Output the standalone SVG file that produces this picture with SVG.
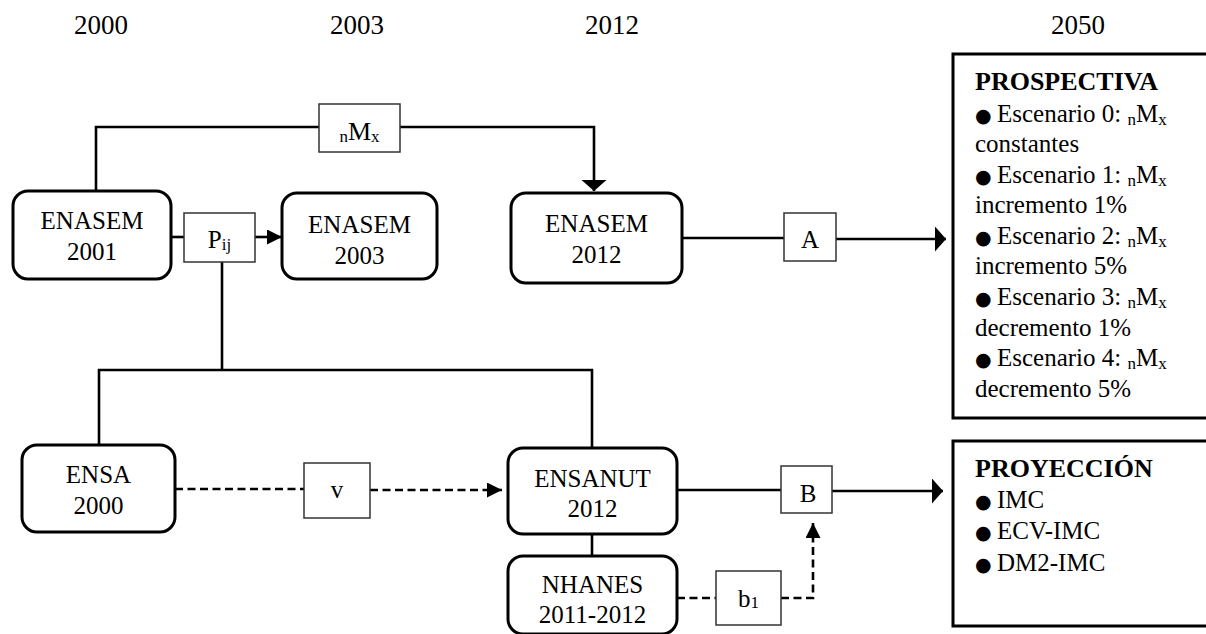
<svg xmlns="http://www.w3.org/2000/svg" width="1206" height="634" viewBox="0 0 1206 634">
<style>
text{font-family:"Liberation Serif","Times New Roman",serif;font-size:25px;fill:#000}
.c{text-anchor:middle}
.yr{font-size:27px;text-anchor:middle}
.b{font-weight:bold;font-size:26px}
.sub{font-size:17px}
.bul{font-size:19px;font-family:"DejaVu Sans",sans-serif}
.node{fill:#fff;stroke:#000;stroke-width:3}
.lbl{fill:#fff;stroke:#333;stroke-width:1.5}
.ln{fill:none;stroke:#000;stroke-width:2.6}
.dash{fill:none;stroke:#000;stroke-width:2.6;stroke-dasharray:8 4.5}
</style>
<defs>
<marker id="ab" markerUnits="userSpaceOnUse" markerWidth="12" markerHeight="26" refX="11" refY="12.5" orient="auto"><path d="M0,0 L11,12.5 L0,25 Z" fill="#000"/></marker>
<marker id="as" markerUnits="userSpaceOnUse" markerWidth="16" markerHeight="16" refX="15" refY="7.5" orient="auto"><path d="M0,0 L15,7.5 L0,15 Z" fill="#000"/></marker>
</defs>

<g id="years">
<text class="yr" x="101" y="34">2000</text>
<text class="yr" x="357" y="34">2003</text>
<text class="yr" x="612" y="34">2012</text>
<text class="yr" x="1078" y="34">2050</text>
</g>

<g id="connectors">
<path class="ln" d="M96,191 V127 H319"/>
<path class="ln" d="M400,127 H594 V191" marker-end="url(#ab)"/>
<path class="ln" d="M171,237 H184"/>
<path class="ln" d="M255,237 H282" marker-end="url(#as)"/>
<path class="ln" d="M222,262 V370"/>
<path class="ln" d="M99,445 V370 H592 V448"/>
<path class="ln" d="M682,238 H784"/>
<path class="ln" d="M836,239 H946" marker-end="url(#ab)"/>
<path class="dash" d="M175,489 H304"/>
<path class="dash" d="M370,490 H502" marker-end="url(#as)"/>
<path class="ln" d="M677,490 H781"/>
<path class="ln" d="M832,491 H943" marker-end="url(#ab)"/>
<path class="ln" d="M592,534 V556"/>
<path class="dash" d="M677,598 H716"/>
<path class="dash" d="M781,598 H813 V523" marker-end="url(#as)"/>
</g>

<g id="enasem2001">
<rect class="node" x="13" y="191" width="158" height="88" rx="15"/>
<text class="c" x="92" y="229">ENASEM</text>
<text class="c" x="92" y="260">2001</text>
</g>
<g id="enasem2003">
<rect class="node" x="282" y="193" width="155" height="86" rx="15"/>
<text class="c" x="359.5" y="233">ENASEM</text>
<text class="c" x="359.5" y="264">2003</text>
</g>
<g id="enasem2012">
<rect class="node" x="511" y="193" width="171" height="90" rx="15"/>
<text class="c" x="596.5" y="232">ENASEM</text>
<text class="c" x="596.5" y="263">2012</text>
</g>
<g id="ensa2000">
<rect class="node" x="22" y="445" width="153" height="87" rx="15"/>
<text class="c" x="98.5" y="483">ENSA</text>
<text class="c" x="98.5" y="514">2000</text>
</g>
<g id="ensanut2012">
<rect class="node" x="508" y="448" width="169" height="86" rx="15"/>
<text class="c" x="592.5" y="487">ENSANUT</text>
<text class="c" x="592.5" y="517">2012</text>
</g>
<g id="nhanes">
<rect class="node" x="508" y="556" width="169" height="78" rx="15"/>
<text class="c" x="592.5" y="593">NHANES</text>
<text class="c" x="592.5" y="623">2011-2012</text>
</g>

<g id="lbl-nMx">
<rect class="lbl" x="319" y="104" width="81" height="48"/>
<text class="c" x="359.5" y="140"><tspan class="sub" dy="2">n</tspan><tspan dy="-2" font-size="26">M</tspan><tspan class="sub" dy="2">x</tspan></text>
</g>
<g id="lbl-Pij">
<rect class="lbl" x="184" y="213" width="71" height="49"/>
<text class="c" x="219.5" y="248">P<tspan class="sub" dy="2">ij</tspan></text>
</g>
<g id="lbl-A">
<rect class="lbl" x="784" y="213" width="52" height="48"/>
<text class="c" x="810" y="248">A</text>
</g>
<g id="lbl-v">
<rect class="lbl" x="304" y="463" width="66" height="55"/>
<text class="c" x="337" y="498">v</text>
</g>
<g id="lbl-B">
<rect class="lbl" x="781" y="466" width="51" height="47"/>
<text class="c" x="808" y="502">B</text>
</g>
<g id="lbl-b1">
<rect class="lbl" x="716" y="571" width="65" height="54"/>
<text class="c" x="748.5" y="607">b<tspan class="sub" dy="1">1</tspan></text>
</g>

<g id="prospectiva">
<rect class="node" x="953" y="54" width="260" height="364"/>
<text class="b" x="975" y="90">PROSPECTIVA</text>
<text x="975" y="122"><tspan class="bul">●</tspan><tspan x="997">Escenario 0: </tspan><tspan class="sub" dy="3">n</tspan><tspan dy="-3">M</tspan><tspan class="sub" dy="3">x</tspan></text>
<text x="975" y="152">constantes</text>
<text x="975" y="183"><tspan class="bul">●</tspan><tspan x="997">Escenario 1: </tspan><tspan class="sub" dy="3">n</tspan><tspan dy="-3">M</tspan><tspan class="sub" dy="3">x</tspan></text>
<text x="975" y="213">incremento 1%</text>
<text x="975" y="244"><tspan class="bul">●</tspan><tspan x="997">Escenario 2: </tspan><tspan class="sub" dy="3">n</tspan><tspan dy="-3">M</tspan><tspan class="sub" dy="3">x</tspan></text>
<text x="975" y="274">incremento 5%</text>
<text x="975" y="305"><tspan class="bul">●</tspan><tspan x="997">Escenario 3: </tspan><tspan class="sub" dy="3">n</tspan><tspan dy="-3">M</tspan><tspan class="sub" dy="3">x</tspan></text>
<text x="975" y="336">decremento 1%</text>
<text x="975" y="366"><tspan class="bul">●</tspan><tspan x="997">Escenario 4: </tspan><tspan class="sub" dy="3">n</tspan><tspan dy="-3">M</tspan><tspan class="sub" dy="3">x</tspan></text>
<text x="975" y="397">decremento 5%</text>
</g>

<g id="proyeccion">
<rect class="node" x="953" y="441" width="260" height="185"/>
<text class="b" x="975" y="477">PROYECCIÓN</text>
<text x="975" y="508"><tspan class="bul">●</tspan><tspan x="997">IMC</tspan></text>
<text x="975" y="539"><tspan class="bul">●</tspan><tspan x="997">ECV-IMC</tspan></text>
<text x="975" y="571"><tspan class="bul">●</tspan><tspan x="997">DM2-IMC</tspan></text>
</g>
</svg>
